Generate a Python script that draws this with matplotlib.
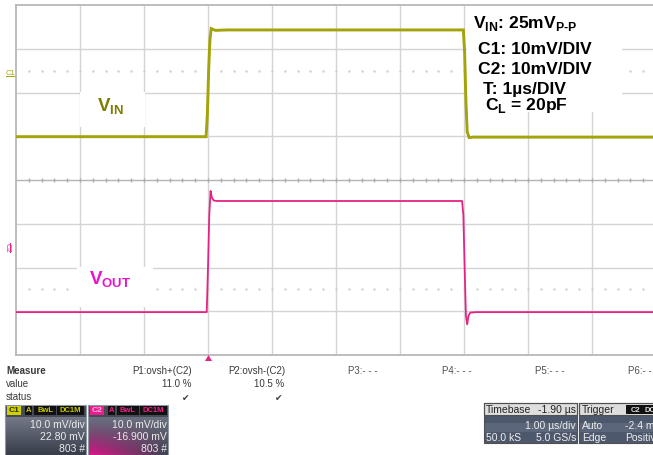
import matplotlib.pyplot as plt
import matplotlib.patches as mpatches
import numpy as np

W, H = 653, 455
plt.rcParams['font.family'] = ['Liberation Sans', 'DejaVu Sans']
plt.rcParams['mathtext.fontset'] = 'custom'
plt.rcParams['mathtext.rm'] = 'Liberation Sans:bold'
plt.rcParams['mathtext.bf'] = 'Liberation Sans:bold'

# waveforms: time in us (1 us/div), level in divisions from the bottom of the screen
vin_t = [0.0, 2.97, 2.99, 3.01, 3.03, 3.05, 3.08, 3.12, 3.3, 6.99, 7.01, 7.03, 7.05, 7.08, 7.15, 10.3]
vin_y = [4.99, 4.99, 5.5, 6.5, 7.2, 7.46, 7.44, 7.42, 7.43, 7.43, 6.9, 5.8, 5.1, 4.97, 4.98, 4.98]
vout_t = [0.0, 2.98, 3.0, 3.02, 3.04, 3.06, 3.09, 3.15, 6.97, 6.99, 7.01, 7.03, 7.05, 7.07, 7.1, 7.2, 10.3]
vout_y = [0.98, 0.98, 2.0, 3.2, 3.75, 3.6, 3.53, 3.52, 3.52, 3.2, 2.0, 0.9, 0.7, 0.9, 0.97, 0.98, 0.98]

settings = [r'V$_\mathbf{IN}$: 25mV$_\mathbf{P\text{-}P}$', 'C1: 10mV/DIV', 'C2: 10mV/DIV',
            'T: 1µs/DIV', r'C$_\mathbf{L}$ = 20pF']
settings_pos = [(473, 28), (478, 54), (478, 74), (483, 94), (485, 110)]

meas_names = ['P1:ovsh+(C2)', 'P2:ovsh-(C2)', 'P3:- - -', 'P4:- - -', 'P5:- - -', 'P6:- - -']
meas_values = ['11.0 %', '10.5 %']
c1_info = ['10.0 mV/div', '22.80 mV', '803 #']
c2_info = ['10.0 mV/div', '-16.900 mV', '803 #']

VIN_C = '#a3a30a'
VOUT_C = '#e62382'


def f(x, y):
    return x / W, 1 - y / H


def d(px, py):
    # pixel -> screen divisions
    return (px - 16) / 64, (355 - py) / 43.75


fig = plt.figure(figsize=(W / 100, H / 100), dpi=100)
ax = fig.add_axes([16 / W, 100 / H, 640 / W, 350 / H])
ax.set_xlim(0, 10)
ax.set_ylim(0, 8)
for s in ax.spines.values():
    s.set_color('#b8b8b8')
    s.set_linewidth(1.3)
ax.set_xticks([])
ax.set_yticks([])
for i in range(1, 10):
    ax.axvline(i, color='#d4d4d4', lw=1.0, zorder=0)
for j in range(1, 8):
    ax.axhline(j, color='#d4d4d4' if j != 4 else '#b4b4b4', lw=1.0, zorder=0)
minor = np.arange(0.2, 10, 0.2)
ax.plot(minor, np.full_like(minor, 4.0), ls='none', marker='|', ms=3, color='#aaaaaa', zorder=0)
ax.plot(minor, np.full_like(minor, 6.5), ls='none', marker='s', ms=0.7, color='#d0d0d0', zorder=0)
ax.plot(minor, np.full_like(minor, 1.5), ls='none', marker='s', ms=0.7, color='#d0d0d0', zorder=0)

# white patches behind the labels
for (x0, y0, x1, y1) in [(80, 92, 145, 127), (77, 267, 153, 307), (467, 6, 622, 112)]:
    a0, b0 = d(x0, y1)
    a1, b1 = d(x1, y0)
    ax.add_patch(mpatches.Rectangle((a0, b0), a1 - a0, b1 - b0, fc='white', ec='none', zorder=1))

ax.plot(vin_t, vin_y, color=VIN_C, lw=2.1, zorder=3, solid_joinstyle='miter')
ax.plot(vout_t, vout_y, color=VOUT_C, lw=1.3, zorder=3)

fig.text(*f(97, 112), r'V$_\mathbf{IN}$', color='#7d7d00', fontsize=13.5, fontweight='bold', va='baseline')
fig.text(*f(89, 285), r'V$_\mathbf{OUT}$', color='#ea10d0', fontsize=13.5, fontweight='bold', va='baseline')
for txt, (x, y) in zip(settings, settings_pos):
    fig.text(*f(x, y), txt, color='black', fontsize=12.6, fontweight='bold', va='baseline')

fig.text(*f(6, 75), 'C1', color=VIN_C, fontsize=5.5, va='baseline')
fig.add_artist(mpatches.Rectangle(f(6, 77), 9 / W, 1.2 / H, transform=fig.transFigure, fc=VIN_C, ec='none'))
fig.text(*f(7, 248), 'C2', color=VOUT_C, fontsize=5.5, va='center', ha='center', rotation=270)
fig.add_artist(mpatches.Rectangle(f(10, 253), 1.2 / W, 10 / H, transform=fig.transFigure, fc=VOUT_C, ec='none'))

# trigger marker
fig.add_artist(mpatches.Polygon([f(205, 361), f(212, 361), f(208.5, 355)], closed=True,
                                transform=fig.transFigure, fc=VOUT_C, ec='none'))

# measurement table
tc = '#3a3a3a'
fig.text(*f(6, 374), 'Measure', fontsize=7, fontweight='bold', color=tc, va='baseline')
fig.text(*f(6, 387), 'value', fontsize=7, color=tc, va='baseline')
fig.text(*f(6, 400), 'status', fontsize=7, color=tc, va='baseline')
meas_right = [192, 285]
for name, x in zip(meas_names[:2], meas_right):
    fig.text(*f(x, 374), name, fontsize=7, color=tc, va='baseline', ha='right')
for val, x in zip(meas_values, meas_right):
    fig.text(*f(x - 1, 387), val, fontsize=7, color=tc, va='baseline', ha='right')
    fig.text(*f(x - 3, 401), '✔', fontsize=6.5, color=tc, va='baseline', ha='right', family='DejaVu Sans')
for name, x in zip(meas_names[2:], [348, 442, 535, 628]):
    fig.text(*f(x, 374), name, fontsize=7, color='#505050', va='baseline')


def rgb(h):
    h = h.lstrip('#')
    return [int(h[i:i + 2], 16) / 255 for i in (0, 2, 4)]


def grad_box(x0, y0, x1, y1, top, bottom, side=None):
    bax = fig.add_axes([x0 / W, 1 - y1 / H, (x1 - x0) / W, (y1 - y0) / H])
    bax.set_axis_off()
    t = np.linspace(0, 1, 40)[:, None, None]
    img = np.array(top)[None, None, :] * (1 - t) + np.array(bottom)[None, None, :] * t
    img = np.repeat(img, 40, axis=1)
    if side is not None:
        s = np.linspace(1, 0, 40)[None, :, None] * np.linspace(0, 1, 40)[:, None, None] ** 1.5
        img = img * (1 - s) + np.array(side)[None, None, :] * s
    bax.imshow(img, aspect='auto', extent=[0, 1, 0, 1], interpolation='bilinear')
    return bax


# channel boxes
grad_box(5, 417, 86, 455, rgb('#737988'), rgb('#363c48'))
grad_box(88, 417, 168, 455, rgb('#6a7080'), rgb('#3c4250'), side=rgb('#e0148c'))
for x0, x1 in [(5, 86), (88, 168)]:
    fig.add_artist(mpatches.Rectangle(f(x0, 417), (x1 - x0) / W, 12 / H, transform=fig.transFigure,
                                      fc='#454a55', ec='none'))
    fig.add_artist(mpatches.Rectangle(f(x0, 455), (x1 - x0) / W, 50 / H, transform=fig.transFigure,
                                      fc='none', ec='#9098a0', lw=0.8))
tags = [('A', 25, 32), ('BwL', 34, 56), ('DC1M', 57, 84)]
for off, col, badge in [(0, '#c8c800', '#d0d000'), (83, '#f0208c', '#e8208c')]:
    fig.add_artist(mpatches.Rectangle(f(7 + off, 415), 14 / W, 9 / H, transform=fig.transFigure,
                                      fc=badge, ec='none'))
    fig.text(*f(14 + off, 411), 'C' + ('1' if off == 0 else '2'), fontsize=6, fontweight='bold',
             color='#303000' if off == 0 else '#ffb0e0', ha='center', va='center')
    for tag, a, b in tags:
        fig.add_artist(mpatches.Rectangle(f(a + off, 415), (b - a) / W, 9 / H, transform=fig.transFigure,
                                          fc='#111111', ec='none'))
        fig.text(*f((a + b) / 2 + off, 411), tag, fontsize=5.5, fontweight='bold', color=col,
                 ha='center', va='center')
for info, xr in [(c1_info, 85), (c2_info, 167)]:
    for txt, y in zip(info, [428, 440, 452]):
        fig.text(*f(xr, y), txt, fontsize=7.5, color='#ececec', ha='right', va='baseline')

# timebase and trigger boxes
for x0, x1 in [(484, 577), (579, 660)]:
    fig.add_artist(mpatches.Rectangle(f(x0, 443), (x1 - x0) / W, 28 / H, transform=fig.transFigure,
                                      fc='#4e586c', ec='none'))
    fig.add_artist(mpatches.Rectangle(f(x0, 432), (x1 - x0) / W, 9 / H, transform=fig.transFigure,
                                      fc='#5c667a', ec='none'))
    fig.add_artist(mpatches.Rectangle(f(x0, 415), (x1 - x0) / W, 12 / H, transform=fig.transFigure,
                                      fc='#dedede', ec='#505050', lw=0.8))
    fig.add_artist(mpatches.Rectangle(f(x0, 443), (x1 - x0) / W, 40 / H, transform=fig.transFigure,
                                      fc='none', ec='#505050', lw=0.8))
fig.text(*f(486, 413), 'Timebase', fontsize=7.5, color='#222222', va='baseline')
fig.text(*f(576, 413), '-1.90 µs', fontsize=7.5, color='#222222', va='baseline', ha='right')
fig.text(*f(576, 429), '1.00 µs/div', fontsize=7.5, color='#eeeeee', va='baseline', ha='right')
fig.text(*f(486, 441), '50.0 kS', fontsize=7.5, color='#eeeeee', va='baseline')
fig.text(*f(576, 441), '5.0 GS/s', fontsize=7.5, color='#eeeeee', va='baseline', ha='right')
fig.text(*f(582, 413), 'Trigger', fontsize=7.5, color='#222222', va='baseline')
fig.add_artist(mpatches.Rectangle(f(626, 414), 27 / W, 9 / H, transform=fig.transFigure, fc='#111111', ec='none'))
fig.text(*f(636, 410), 'C2', fontsize=5.5, fontweight='bold', color='#dddddd', ha='center', va='center')
fig.text(*f(650, 410), 'DC', fontsize=5.5, fontweight='bold', color='#dddddd', ha='center', va='center')
fig.text(*f(582, 429), 'Auto', fontsize=7.5, color='#eeeeee', va='baseline')
fig.text(*f(625, 429), '-2.4 mV', fontsize=7.5, color='#eeeeee', va='baseline')
fig.text(*f(582, 441), 'Edge', fontsize=7.5, color='#eeeeee', va='baseline')
fig.text(*f(625, 441), 'Positive', fontsize=7.5, color='#eeeeee', va='baseline')

fig.savefig('out.png', dpi=100)
